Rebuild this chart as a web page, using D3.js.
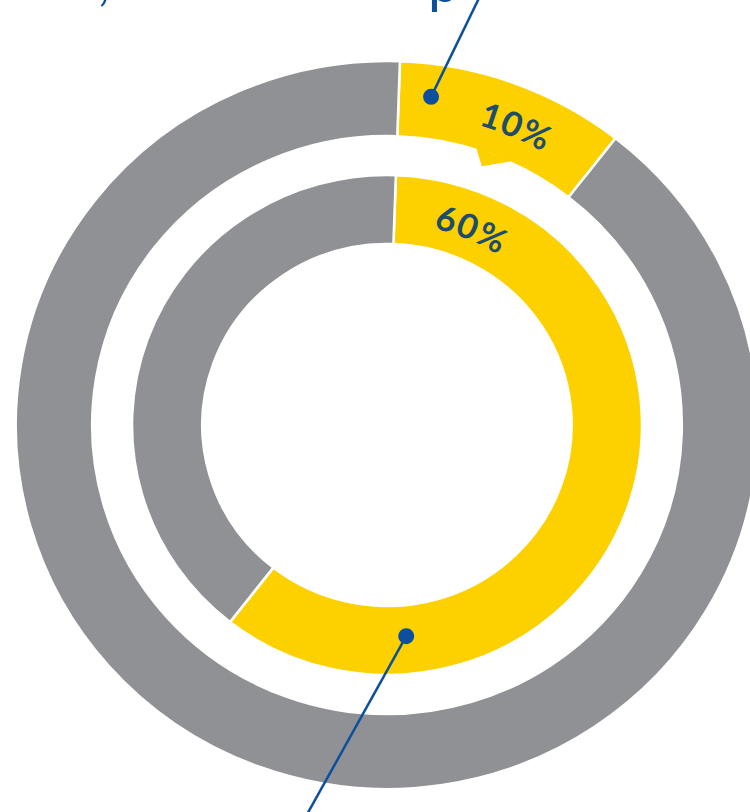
<!DOCTYPE html>
<html>
<head>
<meta charset="utf-8">
<script src="https://cdn.jsdelivr.net/npm/d3@7/dist/d3.min.js"></script>
<style>
    body { margin: 0; background: #fff; }
    svg { display: block; }
</style>
</head>
<body>
<svg id="chart"></svg>
<script>
// values
var segments = ["share", "rest"];
var outerValues = [10, 90];
var innerValues = [60, 40];
var ringLabels = ["10%", "60%"];
var titleBits = [",", "p"];

var W = 750, H = 812;
var cx = 387, cy = 425, sx = 1.02;
var startOffset = 2 * Math.PI / 180;
var colors = d3.scaleOrdinal().domain(segments).range(["#fdd000", "#8f9194"]);
var blue = "#0b4f9e";

var rings = [
    { values: outerValues, r0: 289, r1: 364, label: ringLabels[0], base: 313 },
    { values: innerValues, r0: 181, r1: 250, label: ringLabels[1], base: 202 }
];

var svg = d3.select("#chart").attr("width", W).attr("height", H);

var pie = d3.pie().sort(null)
    .startAngle(startOffset).endAngle(2 * Math.PI + startOffset);

var g = svg.append("g")
    .attr("transform", "translate(" + cx + "," + cy + ") scale(" + sx + ",1)");

function toXY(angle, r) {
    return [cx + sx * r * Math.sin(angle), cy - r * Math.cos(angle)];
}

rings.forEach(function (ring, i) {
    var arc = d3.arc().innerRadius(ring.r0).outerRadius(ring.r1);
    var slices = pie(ring.values);

    g.append("g").attr("class", "ring" + i)
      .selectAll("path").data(slices).enter().append("path")
      .attr("d", arc)
      .attr("fill", function (d, j) { return colors(segments[j]); })
      .attr("stroke", "#fff")
      .attr("stroke-width", 2.5);

    // curved label near the start of the coloured slice
    var mid = slices[0].startAngle + 21 * Math.PI / 180;
    var p = d3.path();
    p.arc(0, 0, ring.base, mid - Math.PI / 2 - 0.7, mid - Math.PI / 2 + 0.7);
    g.append("path").attr("id", "lp" + i).attr("d", p.toString()).attr("fill", "none");
    g.append("text")
      .attr("font-family", "Lato, 'Open Sans', sans-serif")
      .attr("font-size", 34)
      .attr("font-weight", 700)
      .attr("letter-spacing", 1)
      .attr("fill", "#1d4c6c")
      .append("textPath")
      .attr("href", "#lp" + i)
      .attr("startOffset", "50%")
      .attr("text-anchor", "middle")
      .text(ring.label);
});

// small pointer under the outer highlighted slice
var outerArcs = pie(outerValues);
var a = outerArcs[0].startAngle;
var tail = [[a + 0.27, 291], [a + 0.31, 275], [a + 0.40, 291]];
g.append("path")
  .attr("d", d3.line()(tail.map(function (t) { return [t[1] * Math.sin(t[0]), -t[1] * Math.cos(t[0])]; })) + "Z")
  .attr("fill", colors(segments[0]));

// leader lines with dots
var leaders = [
    { angle: 7.5, r: 331, dir: 25.9, len: 120 },
    { angle: 174.9, r: 212, dir: 209.1, len: 215 }
];
leaders.forEach(function (l) {
    var d = toXY(l.angle * Math.PI / 180, l.r);
    var t = l.dir * Math.PI / 180;
    svg.append("line")
      .attr("x1", d[0]).attr("y1", d[1])
      .attr("x2", d[0] + l.len * Math.sin(t)).attr("y2", d[1] - l.len * Math.cos(t))
      .attr("stroke", blue).attr("stroke-width", 2.5);
    svg.append("circle")
      .attr("cx", d[0]).attr("cy", d[1]).attr("r", 8)
      .attr("fill", blue);
});

// heading sits above the frame, only descenders show
svg.append("text").attr("x", 98).attr("y", 0)
  .attr("font-family", "Lato, sans-serif").attr("font-size", 50).attr("fill", blue)
  .text(titleBits[0]);
svg.append("text").attr("x", 428).attr("y", 2)
  .attr("font-family", "Lato, sans-serif").attr("font-size", 56).attr("fill", blue)
  .text(titleBits[1]);
</script>
</body>
</html>
